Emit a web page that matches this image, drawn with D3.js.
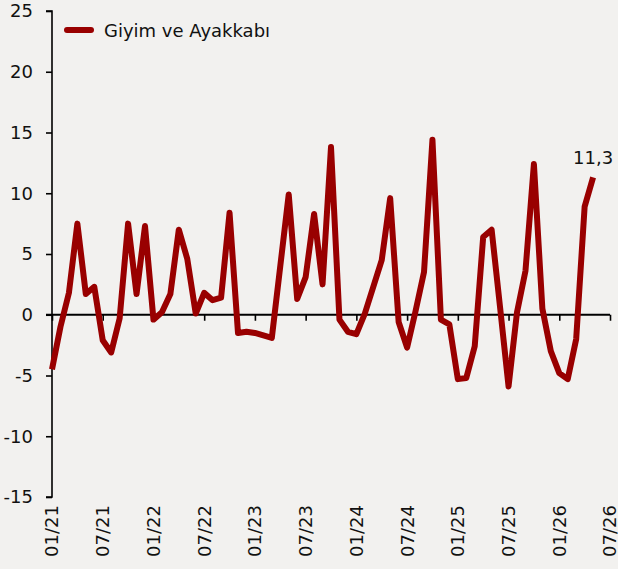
<!DOCTYPE html>
<html><head><meta charset="utf-8">
<script src="https://cdn.jsdelivr.net/npm/d3@7"></script>
<style>
html,body{margin:0;padding:0;background:#f2f1ef;}
svg{display:block;font-family:"DejaVu Sans",sans-serif;}
</style></head>
<body>
<svg id="chart" width="618" height="569"></svg>
<script>
const seriesName = "Giyim ve Ayakkabı";
const startYear = 2021, startMonth = 1;
const values = [
 -4.5, -1.0, 1.8, 7.5, 1.7, 2.3, -2.1, -3.1, -0.3, 7.5,
  1.7, 7.3, -0.4, 0.2, 1.7, 7.0, 4.6, 0.1, 1.8, 1.2,
  1.4, 8.4, -1.5, -1.4, -1.5, -1.7, -1.9, 4.0, 9.9, 1.3,
  3.1, 8.3, 2.5, 13.8, -0.4, -1.4, -1.6, 0.1, 2.3, 4.5,
  9.6, -0.6, -2.7, 0.3, 3.5, 14.4, -0.4, -0.8, -5.3, -5.2,
 -2.6, 6.4, 7.0, 0.6, -5.9, 0.2, 3.6, 12.4, 0.5, -3.0,
 -4.8, -5.3, -2.0, 8.9, 11.3
];
const yTicks = [-15, -10, -5, 0, 5, 10, 15, 20, 25];
const xTickLabels = ["01/21","07/21","01/22","07/22","01/23","07/23","01/24","07/24","01/25","07/25","01/26","07/26"];
const lastLabel = "11,3";

const svg = d3.select("#chart");
const lineColor = "#990000";
const nMonths = 66;
const x = d3.scaleLinear().domain([0, nMonths]).range([52, 610]);
const y = d3.scaleLinear().domain([-15, 25]).range([497, 11]);

// y axis
const yAxis = d3.axisLeft(y).tickValues(yTicks).tickSize(6).tickPadding(13).tickFormat(d => d);
const gy = svg.append("g").attr("transform", "translate(52,0)").call(yAxis);
gy.select(".domain").attr("stroke", "#000").attr("stroke-width", 1.6).attr("d", `M-6,${y(25)}H0V${y(-15)}H-6`);
gy.selectAll(".tick line").attr("stroke", "#000").attr("stroke-width", 1.6);
gy.selectAll(".tick text").attr("fill", "#111").style("font-size", "18px").style("font-family", "DejaVu Sans");

// zero line with ticks
const xTickIdx = xTickLabels.map((_, i) => i * 6);
const xAxis = d3.axisBottom(x).tickValues(xTickIdx).tickSize(6).tickFormat("");
const gx = svg.append("g").attr("transform", `translate(0,${y(0)})`).call(xAxis);
gx.select(".domain").attr("stroke", "#000").attr("stroke-width", 2.2).attr("d", `M46,0H${x(nMonths)}`);
gx.selectAll(".tick line").attr("stroke", "#000").attr("stroke-width", 1.6);

// x labels at bottom
svg.append("g").selectAll("text").data(xTickLabels).join("text")
  .attr("transform", (d, i) => `translate(${x(i*6)},505) rotate(-90)`)
  .attr("text-anchor", "end").attr("dy", "0.36em")
  .attr("fill", "#111").style("font-size", "18px")
  .text(d => d);

// line
const line = d3.line().x((d, i) => x(i)).y(d => y(d));
svg.append("path").datum(values).attr("d", line)
  .attr("fill", "none").attr("stroke", lineColor).attr("stroke-width", 6)
  .attr("stroke-linejoin", "round").attr("stroke-linecap", "butt");

// last value label
const li = values.length - 1;
svg.append("text").attr("x", x(li)).attr("y", y(values[li]) - 13)
  .attr("text-anchor", "middle").attr("fill", "#111").style("font-size", "18px").text(lastLabel);

// legend
svg.append("line").attr("x1", 67).attr("x2", 91).attr("y1", 30).attr("y2", 30)
  .attr("stroke", lineColor).attr("stroke-width", 6).attr("stroke-linecap", "round");
svg.append("text").attr("x", 104).attr("y", 36.5).attr("fill", "#111").style("font-size", "18px").text(seriesName);
</script>
</body></html>
